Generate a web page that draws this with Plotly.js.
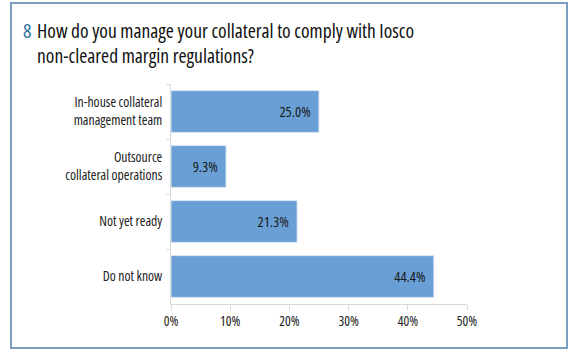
<!DOCTYPE html>
<html>
<head>
<meta charset="utf-8">
<script src="https://cdn.plot.ly/plotly-3.0.1.min.js"></script>
<style>
html,body{margin:0;padding:0;background:#fff;}
#wrap{position:relative;width:580px;height:358px;}
#chart{width:580px;height:358px;}
svg text{font-stretch:condensed;}
#frame{position:absolute;left:10px;top:2px;width:554px;height:343px;border:2px solid #7b9dbf;pointer-events:none;}
</style>
</head>
<body>
<div id="wrap"><div id="chart"></div><div id="frame"></div></div>
<script>
const categories = ["In-house collateral<br>management team", "Outsource<br>collateral operations", "Not yet ready", "Do not know"];
const values = [25.0, 9.3, 21.3, 44.4];
const labels = ["25.0%", "9.3%", "21.3%", "44.4%"];
const tickVals = [0, 10, 20, 30, 40, 50];
const tickText = ["0%", "10%", "20%", "30%", "40%", "50%"];
const titleNumber = "8";
const titleLines = ["How do you manage your collateral to comply with Iosco", "non-cleared margin regulations?"];

const FONT = "'Open Sans', 'DejaVu Sans', sans-serif";

// plot area in pixels: x 171..467, y 84..304
const px = v => (v - 171) / 296;
const py = v => (304 - v) / 220;

const trace = {
  type: "bar",
  orientation: "h",
  y: categories,
  x: values,
  text: labels.map(t => t + "\u00a0\u00a0"),
  textposition: "inside",
  insidetextanchor: "end",
  textfont: {family: FONT, size: 14.5, color: "#1a1a1a"},
  marker: {color: "#6a9fd5", line: {color: "#dbe7f3", width: 1}},
  hoverinfo: "skip",
  cliponaxis: false
};

const layout = {
  width: 580, height: 358,
  margin: {l: 171, r: 113, t: 84, b: 54},
  paper_bgcolor: "#fff", plot_bgcolor: "#fff",
  showlegend: false,
  bargap: 0.24,
  annotations: [
    {text: titleNumber, xref: "paper", yref: "paper", x: px(21), xanchor: "left",
     y: py(30), yanchor: "middle", showarrow: false,
     font: {family: FONT, size: 20, color: "#2f6f9f"}},
    {text: titleLines[0], xref: "paper", yref: "paper", x: px(35), xanchor: "left",
     y: py(30), yanchor: "middle", showarrow: false,
     font: {family: FONT, size: 19.5, color: "#111"}},
    {text: titleLines[1], xref: "paper", yref: "paper", x: px(35), xanchor: "left",
     y: py(55), yanchor: "middle", showarrow: false,
     font: {family: FONT, size: 19.5, color: "#111"}}
  ],
  xaxis: {
    range: [0, 50],
    tickvals: tickVals, ticktext: tickText,
    showgrid: false, zeroline: false,
    showline: true, linecolor: "#d9d9d9", linewidth: 1,
    ticks: "outside", ticklen: 5, tickcolor: "#d9d9d9",
    tickfont: {family: FONT, size: 13.5, color: "#222"},
    fixedrange: true
  },
  yaxis: {
    autorange: "reversed",
    showgrid: false, zeroline: false,
    showline: true, linecolor: "#d9d9d9", linewidth: 1,
    ticks: "outside", ticklen: 4, tickcolor: "#d9d9d9",
    tickson: "boundaries",
    ticklabelstandoff: 5,
    tickfont: {family: FONT, size: 13.7, color: "#222"},
    fixedrange: true
  }
};

Plotly.newPlot("chart", [trace], layout, {displayModeBar: false, staticPlot: true});
</script>
</body>
</html>
